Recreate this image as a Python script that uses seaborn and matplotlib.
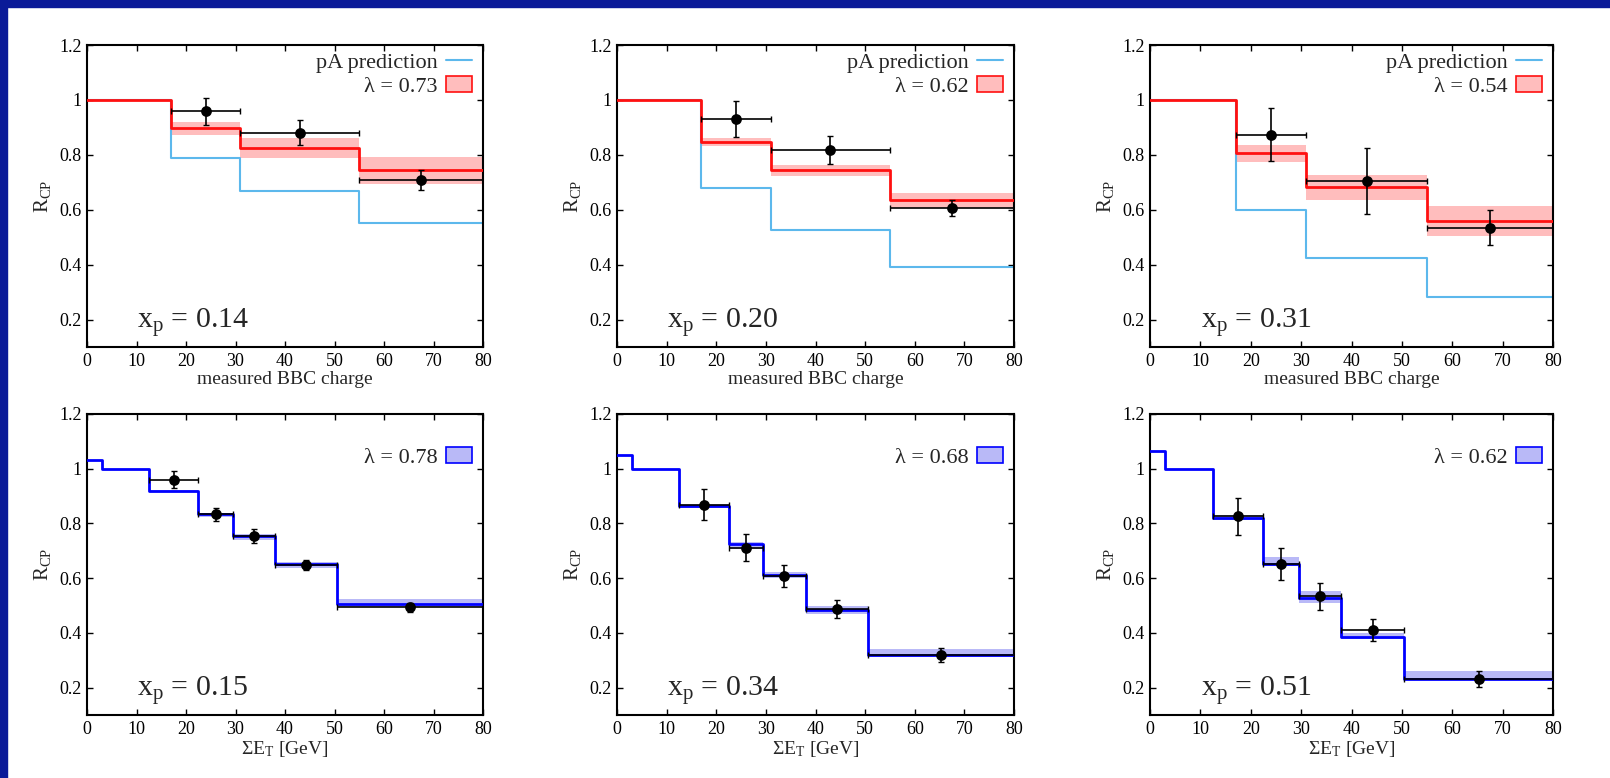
import matplotlib
matplotlib.use("Agg")
import matplotlib.pyplot as plt
from matplotlib.patches import Patch, Rectangle
from matplotlib.lines import Line2D
import numpy as np
import pandas as pd
import seaborn as sns

# ---------------- data ----------------
# top row: centrality bins in measured BBC charge
bbc_edges = [0, 17, 31, 55, 80]
bbc_xp = ["0.14", "0.20", "0.31"]
bbc_lambda = ["0.73", "0.62", "0.54"]

bbc_pa_pred = [
    [1.0, 0.787, 0.670, 0.553],
    [1.0, 0.680, 0.526, 0.390],
    [1.0, 0.598, 0.424, 0.283],
]
bbc_model = [
    [1.0, 0.897, 0.826, 0.743],
    [1.0, 0.847, 0.744, 0.634],
    [1.0, 0.808, 0.683, 0.559],
]
bbc_band_lo = [
    [None, 0.874, 0.790, 0.693],
    [None, 0.833, 0.722, 0.607],
    [None, 0.773, 0.636, 0.505],
]
bbc_band_hi = [
    [None, 0.918, 0.861, 0.792],
    [None, 0.861, 0.764, 0.662],
    [None, 0.837, 0.728, 0.613],
]
bbc_pt_x = [24, 43, 67.5]
bbc_pt_y = [
    [0.958, 0.880, 0.709],
    [0.930, 0.817, 0.606],
    [0.874, 0.706, 0.535],
]
bbc_pt_err = [
    [0.050, 0.045, 0.036],
    [0.065, 0.050, 0.030],
    [0.097, 0.120, 0.065],
]

# bottom row: centrality bins in sum E_T
et_edges = [0, 3, 12.5, 22.5, 29.5, 38, 50.5, 80]
et_xp = ["0.15", "0.34", "0.51"]
et_lambda = ["0.78", "0.68", "0.62"]

et_model = [
    [1.033, 1.0, 0.919, 0.833, 0.754, 0.651, 0.504],
    [1.051, 1.0, 0.864, 0.724, 0.611, 0.483, 0.319],
    [1.064, 1.0, 0.821, 0.651, 0.526, 0.386, 0.230],
]
et_band_lo = [
    [None, None, 0.914, 0.824, 0.738, 0.637, 0.495],
    [None, None, 0.858, 0.708, 0.599, 0.470, 0.313],
    [None, None, 0.814, 0.644, 0.511, 0.376, 0.228],
]
et_band_hi = [
    [None, None, 0.924, 0.840, 0.760, 0.660, 0.524],
    [None, None, 0.870, 0.732, 0.623, 0.498, 0.340],
    [None, None, 0.830, 0.678, 0.553, 0.400, 0.260],
]
et_pt_x = [17.5, 26, 33.75, 44.25, 65.25]
et_pt_y = [
    [0.960, 0.833, 0.754, 0.647, 0.493],
    [0.869, 0.712, 0.607, 0.488, 0.318],
    [0.826, 0.653, 0.534, 0.410, 0.232],
]
et_pt_err = [
    [0.030, 0.025, 0.024, 0.018, 0.015],
    [0.057, 0.049, 0.041, 0.034, 0.026],
    [0.068, 0.058, 0.049, 0.040, 0.030],
]

x_ticks = [0, 10, 20, 30, 40, 50, 60, 70, 80]
y_ticks = [0.2, 0.4, 0.6, 0.8, 1.0, 1.2]
y_ticklabels = ["0.2", "0.4", "0.6", "0.8", "1", "1.2"]

# ---------------- style ----------------
sns.set_theme(style="ticks")
plt.rcParams["font.family"] = ["Liberation Serif", "DejaVu Serif"]
plt.rcParams["mathtext.fontset"] = "custom"
plt.rcParams["mathtext.rm"] = "Liberation Serif"
plt.rcParams["mathtext.it"] = "Liberation Serif:italic"
plt.rcParams["axes.linewidth"] = 1.5

FRAME_BLUE = "#0a1a98"
PRED_BLUE = "#5cb8ec"
RED = "#ff1010"
PINK = "#ffbdbd"
BLUE = "#0000ff"
LAVENDER = "#b9b9f7"

W, H = 1610, 778
fig = plt.figure(figsize=(W / 100, H / 100), dpi=100)
fig.patch.set_facecolor("white")
# dark blue frame on the top and left edges
fig.patches.append(Rectangle((0, 1 - 7 / H), 1, 7 / H, transform=fig.transFigure,
                             color=FRAME_BLUE, zorder=0))
fig.patches.append(Rectangle((0, 0), 7 / W, 1, transform=fig.transFigure,
                             color=FRAME_BLUE, zorder=0))

col_px = [(87, 483), (617, 1014), (1150, 1553)]
row_px = [(45, 347), (414, 715)]


def make_axes(col, row):
    (l, r), (t, b) = col_px[col], row_px[row]
    return fig.add_axes([l / W, 1 - b / H, (r - l) / W, (b - t) / H])


def style_axes(ax, xlabel):
    ax.set_xlim(0, 80)
    ax.set_ylim(0.1, 1.2)
    ax.set_xticks(x_ticks)
    ax.set_xticklabels([str(v) for v in x_ticks])
    ax.set_yticks(y_ticks)
    ax.set_yticklabels(y_ticklabels)
    ax.tick_params(direction="in", top=True, right=True, length=4, width=1,
                   labelsize=13, pad=4, colors="black")
    for s in ax.spines.values():
        s.set_visible(True)
        s.set_color("black")
        s.set_linewidth(1.5)
    ax.set_xlabel(xlabel, fontsize=14, labelpad=1)
    ax.set_ylabel(r"$\mathrm{R_{CP}}$", fontsize=15, labelpad=4)
    ax.grid(False)


def steps(ax, edges, vals, color, lw, z):
    df = pd.DataFrame({"x": edges, "y": list(vals) + [vals[-1]]})
    sns.lineplot(data=df, x="x", y="y", ax=ax, color=color, lw=lw,
                 drawstyle="steps-post", estimator=None, sort=False, zorder=z)


def bands(ax, edges, lo, hi, color):
    for i in range(len(edges) - 1):
        if lo[i] is None:
            continue
        ax.fill_between([edges[i], edges[i + 1]], [lo[i], lo[i]], [hi[i], hi[i]],
                        color=color, lw=0, zorder=1)


def points(ax, edges, px, py, perr):
    lo_edge = [max(e for e in edges if e < x) for x in px]
    hi_edge = [min(e for e in edges if e > x) for x in px]
    xerr = [[x - a for x, a in zip(px, lo_edge)], [b - x for x, b in zip(px, hi_edge)]]
    ax.errorbar(px, py, xerr=xerr, yerr=perr, fmt="none", ecolor="black",
                elinewidth=1.2, capsize=2, capthick=1.0, zorder=5)
    sns.scatterplot(x=px, y=py, ax=ax, color="black", s=60, edgecolor="black",
                    linewidth=0, zorder=6)


def xp_text(ax, val):
    ax.text(0.126, 0.063, r"$\mathrm{x_p}$ = " + val, transform=ax.transAxes,
            fontsize=21.5, ha="left", va="baseline")


LEG_KW = dict(loc="upper right", frameon=False, markerfirst=False, fontsize=16,
              handlelength=1.15, handleheight=0.7, handletextpad=0.4,
              labelspacing=0.15, borderpad=0, borderaxespad=0)

# ---------------- top row ----------------
for i in range(3):
    ax = make_axes(i, 0)
    bands(ax, bbc_edges, bbc_band_lo[i], bbc_band_hi[i], PINK)
    steps(ax, bbc_edges, bbc_pa_pred[i], PRED_BLUE, 1.5, 2)
    steps(ax, bbc_edges, bbc_model[i], RED, 2.0, 3)
    points(ax, bbc_edges, bbc_pt_x, bbc_pt_y[i], bbc_pt_err[i])
    style_axes(ax, "measured BBC charge")
    xp_text(ax, bbc_xp[i])
    handles = [Line2D([], [], color=PRED_BLUE, lw=1.5),
               Patch(facecolor=PINK, edgecolor=RED, lw=1.2)]
    labels = ["pA prediction", "λ = " + bbc_lambda[i]]
    ax.legend(handles, labels, bbox_to_anchor=(0.972, 0.975), **LEG_KW)

# ---------------- bottom row ----------------
for i in range(3):
    ax = make_axes(i, 1)
    bands(ax, et_edges, et_band_lo[i], et_band_hi[i], LAVENDER)
    steps(ax, et_edges, et_model[i], BLUE, 2.0, 3)
    points(ax, et_edges, et_pt_x, et_pt_y[i], et_pt_err[i])
    style_axes(ax, r"Σ$\mathrm{E_T}$ [GeV]")
    xp_text(ax, et_xp[i])
    handles = [Patch(facecolor=LAVENDER, edgecolor=BLUE, lw=1.2)]
    labels = ["λ = " + et_lambda[i]]
    ax.legend(handles, labels, bbox_to_anchor=(0.972, 0.889), **LEG_KW)

fig.savefig("out.png", dpi=100, facecolor=fig.get_facecolor())
